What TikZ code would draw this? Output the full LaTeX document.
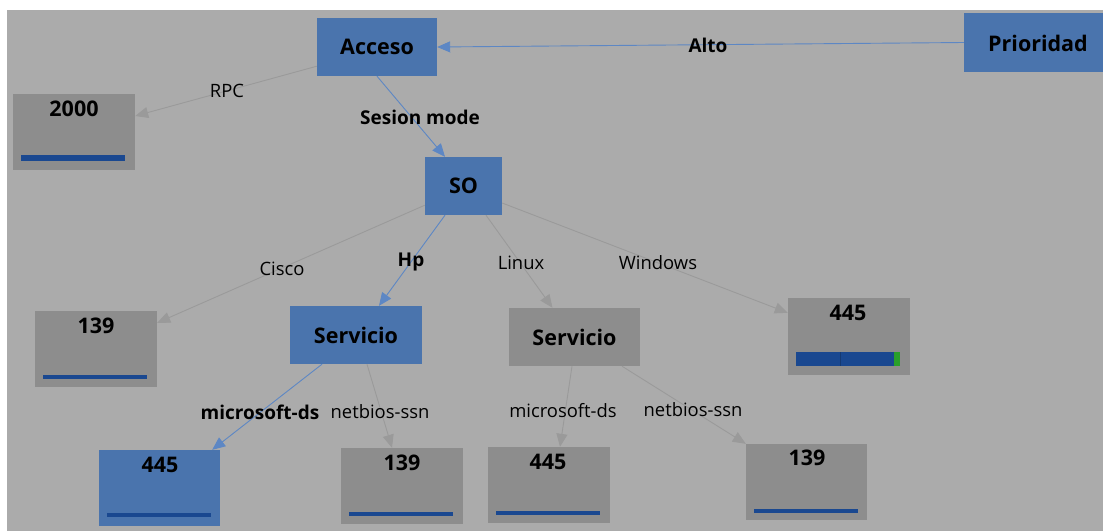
\documentclass[tikz,border=0pt]{standalone}
\usepackage{fontspec}
\setmainfont{Open Sans}
\usetikzlibrary{arrows.meta,calc}
\definecolor{bgc}{HTML}{ABABAB}
\definecolor{nblue}{HTML}{4A74AD}
\definecolor{ngray}{HTML}{8D8D8D}
\definecolor{eblue}{HTML}{5D87C4}
\definecolor{egray}{HTML}{9A9A9A}
\definecolor{barblue}{HTML}{1A4890}
\definecolor{bargreen}{HTML}{2AA02A}
\tikzset{
  base/.style={rectangle,inner sep=0pt,draw=none},
  bluebox/.style={base,fill=nblue,font=\fontsize{21.5}{25}\selectfont\bfseries,text=black},
  graybox/.style={base,fill=ngray,font=\fontsize{21.5}{25}\selectfont\bfseries,text=black},
  numtext/.style={inner sep=0pt,font=\fontsize{21.5}{25}\selectfont\bfseries,text=black},
  lbl/.style={inner sep=0pt,font=\fontsize{18.4}{21}\selectfont,text=black},
  blbl/.style={inner sep=0pt,font=\fontsize{19}{22}\selectfont\bfseries,text=black},
  gedge/.style={draw=egray,line width=0.9pt,-{Triangle[length=13pt,width=11pt]}},
  bedge/.style={draw=eblue,line width=0.9pt,-{Triangle[length=13pt,width=11pt]}},
  bar/.style={fill=barblue},
}
\begin{document}
\begin{tikzpicture}[x=1pt,y=-1pt]
\useasboundingbox (0,0) rectangle (1103,531);
\fill[white] (0,0) rectangle (1103,531);
\fill[bgc] (7,10) rectangle (1103,531);

% main nodes
\node[bluebox,minimum width=120,minimum height=58] (acc) at (377,47) {Acceso};
\node[bluebox,minimum width=146,minimum height=59] (pri) at (1037,42.5) {\hspace*{0pt}};
\node[numtext] (prit) at (1038,43) {Prioridad};
\node[bluebox,minimum width=77,minimum height=58] (so) at (463.5,186) {SO};
\node[bluebox,minimum width=132,minimum height=58] (srvA) at (356,335) {Servicio};
\node[graybox,minimum width=131,minimum height=58] (srvB) at (574.5,337) {Servicio};

% port boxes
\node[graybox,minimum width=122,minimum height=76] (b2000) at (74,132) {};
\node[numtext] (t2000) at (74,109) {2000};
\fill[bar] (21,155) rectangle (125,161);

\node[graybox,minimum width=122,minimum height=76] (b139a) at (96,349) {};
\node[numtext] (t139a) at (96,326) {139};
\fill[bar] (43,374.5) rectangle (147,378.5);

\node[graybox,minimum width=122,minimum height=77] (b445w) at (849,336.5) {};
\node[numtext] (t445w) at (848,313) {445};
\fill[bar] (796,352) rectangle (900,366);
\fill[bargreen] (894,352) rectangle (900,366);
\draw[black!20!barblue,line width=0.4pt] (840,352) -- (840,366);

\node[bluebox,minimum width=121,minimum height=76] (b445a) at (159.5,488) {};
\node[numtext] (t445a) at (160,465) {445};
\fill[bar] (107,513) rectangle (211,517);

\node[graybox,minimum width=122,minimum height=76] (b139b) at (402,486) {};
\node[numtext] (t139b) at (402,463) {139};
\fill[bar] (349,512) rectangle (453,516);

\node[graybox,minimum width=122,minimum height=76] (b445b) at (549,485) {};
\node[numtext] (t445b) at (548,462) {445};
\fill[bar] (496,510.5) rectangle (600,514.5);

\node[graybox,minimum width=121,minimum height=76] (b139c) at (806.5,482) {};
\node[numtext] (t139c) at (807,458) {139};
\fill[bar] (754,508.5) rectangle (858,512.5);

% edges
\draw[bedge] (pri.west) -- (acc.east);
\draw[gedge] ($(acc.south west)+(0,-10)$) -- ($(b2000.east)+(0,-16)$);
\draw[bedge] (acc.south) -- ($(so.north)+(-18.5,0)$);
\draw[gedge] ($(so.south west)+(0,-10)$) -- ($(b139a.north east)+(0,12)$);
\draw[bedge] ($(so.south)+(-18.5,0)$) -- ($(srvA.north)+(23,0)$);
\draw[gedge] ($(so.south)+(22.5,0)$) -- ($(srvB.north)+(-22,0)$);
\draw[gedge] ($(so.east)+(0,17)$) -- ($(b445w.north west)+(0,15)$);
\draw[bedge] ($(srvA.south)+(-34,0)$) -- ($(b445a.north east)+(-8,0)$);
\draw[gedge] ($(srvA.south)+(11,0)$) -- ($(b139b.north)+(-10,0)$);
\draw[gedge] ($(srvB.south)+(-2.5,0)$) -- ($(b445b.north)+(11,0)$);
\draw[gedge] ($(srvB.south)+(47.5,0)$) -- (b139c.north west);

% labels
\node[blbl] (lalto) at (708,45) {Alto};
\node[lbl] (lrpc) at (227,91) {RPC};
\node[blbl] (lses) at (420,117) {Sesion mode};
\node[lbl] (lcisco) at (282,269) {Cisco};
\node[blbl] (lhp) at (411,262) {Hp};
\node[lbl] (llinux) at (521,263) {Linux};
\node[lbl] (lwin) at (658,263) {Windows};
\node[blbl] (lms1) at (260,412) {microsoft-ds};
\node[lbl] (lnb1) at (380,412) {netbios-ssn};
\node[lbl] (lms2) at (563,411) {microsoft-ds};
\node[lbl] (lnb2) at (693,410) {netbios-ssn};
\end{tikzpicture}
\end{document}
